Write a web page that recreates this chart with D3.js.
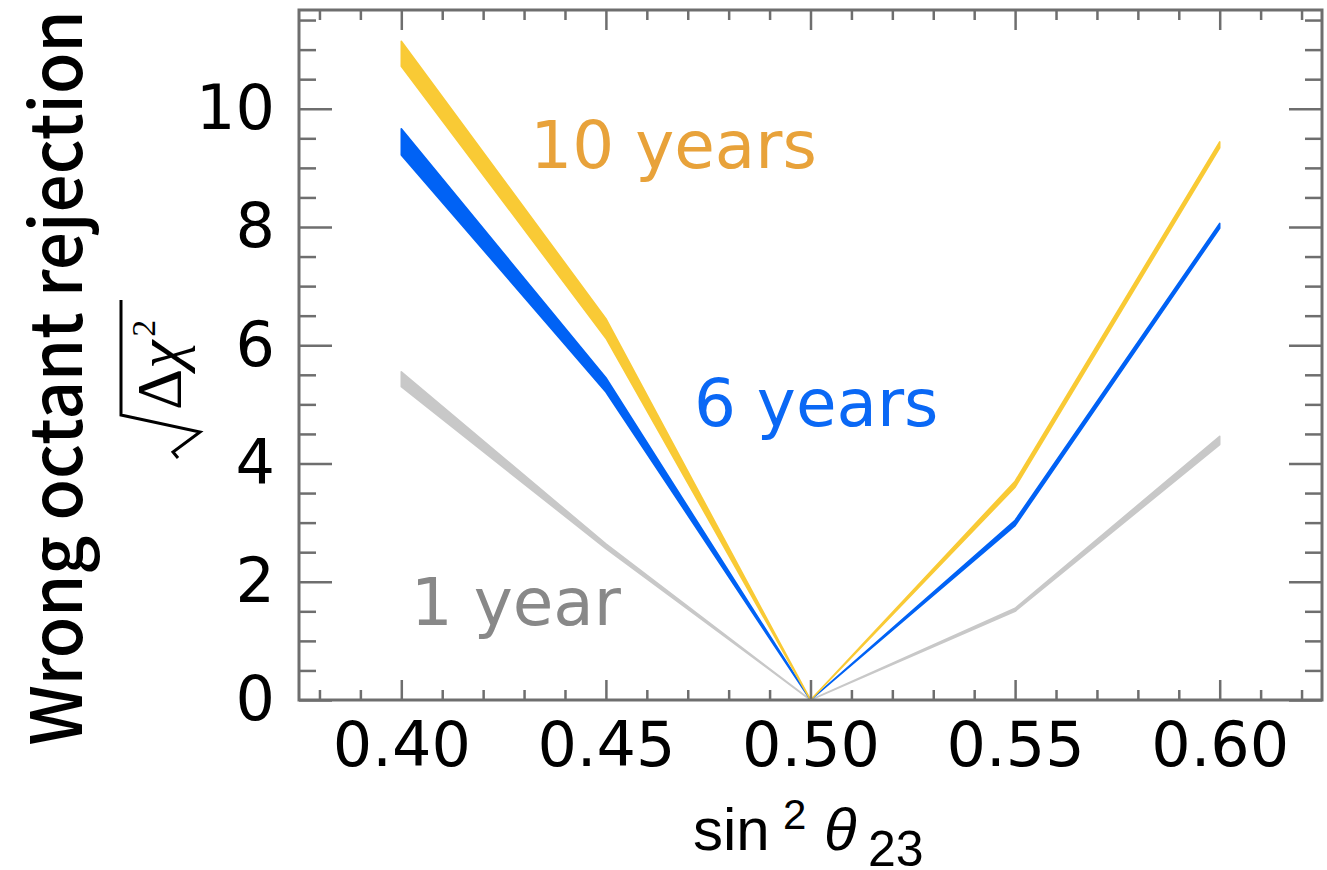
<!DOCTYPE html>
<html>
<head>
<meta charset="utf-8">
<script src="https://cdn.jsdelivr.net/npm/d3@7"></script>
<style>
	body { margin: 0; background: #fff; }
	svg { display: block; }
</style>
</head>
<body>
<svg id="chart" width="1327" height="870"></svg>
<script>
// sin^2(theta23) points and sqrt(delta chi^2) bands (low / high edge)
const sin2 = [0.40, 0.45, 0.50, 0.55, 0.60];
const tenLo = [10.72, 6.12, 0, 3.60, 9.34];
const tenHi = [11.14, 6.45, 0, 3.70, 9.44];
const sixLo = [9.22, 5.21, 0, 2.95, 7.98];
const sixHi = [9.66, 5.45, 0, 3.04, 8.06];
const oneLo = [5.30, 2.56, 0, 1.50, 4.32];
const oneHi = [5.55, 2.64, 0, 1.55, 4.46];

const xMajor = [0.40, 0.45, 0.50, 0.55, 0.60];
const xLabels = ['0.40', '0.45', '0.50', '0.55', '0.60'];
const yMajor = [0, 2, 4, 6, 8, 10];

const font = '"DejaVu Sans", "Noto Sans", sans-serif';
const titleFont = '"Noto Sans CJK JP", "Noto Sans", sans-serif';

let svg = d3.select('#chart'),
	margin = {top: 10, right: 5, bottom: 170, left: 299},
	width = +svg.attr('width') - margin.left - margin.right,
	height = +svg.attr('height') - margin.top - margin.bottom,
	g = svg.append('g').attr('transform', `translate(${margin.left}, ${margin.top})`);

let x = d3.scaleLinear().domain([0.375, 0.625]).range([0, width]),
	y = d3.scaleLinear().domain([0, 11.67]).range([height, 0]);

let xMinor = d3.range(38, 63).map(d => d / 100).filter(d => Math.round(d * 100) % 5 !== 0),
	yMinor = d3.range(1, 24).map(d => d / 2).filter(d => d % 2 !== 0);

// bands
let series = [
	{lo: oneLo, hi: oneHi, color: '#c8c8c8'},
	{lo: sixLo, hi: sixHi, color: '#0062f5'},
	{lo: tenLo, hi: tenHi, color: '#f9ca35'}
];

let area = d3.area()
	.x((d, i) => x(sin2[i]))
	.y0(d => y(d[0]))
	.y1(d => y(d[1]));

series.forEach(s => {
	let pts = s.lo.map((v, i) => [v, s.hi[i]]);
	g.append('path')
		.datum(pts)
		.attr('fill', s.color)
		.attr('stroke', s.color)
		.attr('stroke-width', 1.6)
		.attr('stroke-linejoin', 'round')
		.attr('d', area);
});

// ticks on all four sides
let tickColor = '#6e6e6e';
function styleAxis(sel) {
	sel.select('.domain').remove();
	sel.selectAll('.tick line').attr('stroke', tickColor).attr('stroke-width', 2.5);
	sel.selectAll('text')
		.attr('font-family', font)
		.attr('font-size', 62)
		.attr('fill', '#000');
}

g.append('g').attr('transform', `translate(0, ${height})`)
	.call(d3.axisBottom(x).tickValues(xMinor).tickSize(-10).tickFormat(''))
	.call(styleAxis);
g.append('g').attr('transform', `translate(0, ${height})`)
	.call(d3.axisBottom(x).tickValues(xMajor).tickSize(-20).tickPadding(22)
		.tickFormat((d, i) => xLabels[i]))
	.call(styleAxis);
g.append('g')
	.call(d3.axisTop(x).tickValues(xMinor).tickSize(-10).tickFormat(''))
	.call(styleAxis);
g.append('g')
	.call(d3.axisTop(x).tickValues(xMajor).tickSize(-20).tickFormat(''))
	.call(styleAxis);

g.append('g')
	.call(d3.axisLeft(y).tickValues(yMinor).tickSize(-17).tickFormat(''))
	.call(styleAxis);
g.append('g')
	.call(d3.axisLeft(y).tickValues(yMajor).tickSize(-33).tickPadding(24).tickFormat(d3.format('d')))
	.call(styleAxis);
g.append('g').attr('transform', `translate(${width}, 0)`)
	.call(d3.axisRight(y).tickValues(yMinor).tickSize(-17).tickFormat(''))
	.call(styleAxis);
g.append('g').attr('transform', `translate(${width}, 0)`)
	.call(d3.axisRight(y).tickValues(yMajor).tickSize(-33).tickFormat(''))
	.call(styleAxis);

g.append('rect')
	.attr('width', width)
	.attr('height', height)
	.attr('fill', 'none')
	.attr('stroke', tickColor)
	.attr('stroke-width', 3);

// annotations
let notes = [
	{text: '10 years', xv: 0.4315, yv: 9.0, color: '#e8a23a'},
	{text: '6 years', xv: 0.4715, yv: 4.63, color: '#0a68f5'},
	{text: '1 year', xv: 0.4023, yv: 1.27, color: '#888888'}
];
g.selectAll('text.note')
	.data(notes)
	.enter()
	.append('text')
	.attr('class', 'note')
	.attr('x', d => x(d.xv))
	.attr('y', d => y(d.yv))
	.attr('font-family', font)
	.attr('font-size', 66)
	.attr('fill', d => d.color)
	.text(d => d.text);

// y axis titles
svg.append('text')
	.attr('transform', 'translate(82, 378) rotate(-90)')
	.attr('text-anchor', 'middle')
	.attr('font-family', titleFont)
	.attr('font-size', 71)
	.attr('font-weight', 500)
	.attr('textLength', 735)
	.attr('lengthAdjust', 'spacingAndGlyphs')
	.attr('fill', '#000')
	.text('Wrong octant rejection');

let sq = svg.append('g').attr('transform', 'translate(181, 0) rotate(-90)');
sq.append('path')
	.attr('d', 'M-300,-60 L-415,-60 L-432,19 L-452,-8 L-458,-3')
	.attr('fill', 'none')
	.attr('stroke', '#000')
	.attr('stroke-width', 3);
let sqText = sq.append('text')
	.attr('x', -410)
	.attr('y', 0)
	.attr('font-family', '"Liberation Serif", "DejaVu Serif", serif')
	.attr('font-size', 64)
	.attr('fill', '#000');
sqText.append('tspan').text('Δ');
sqText.append('tspan').attr('font-style', 'italic').text('χ');
sqText.append('tspan').attr('font-size', 34).attr('dy', -26).attr('dx', 4).text('2');

// x axis title
let xt = svg.append('text')
	.attr('font-family', '"Liberation Sans", Arial, sans-serif')
	.attr('font-size', 60)
	.attr('fill', '#000');
xt.append('tspan').attr('x', 693).attr('y', 850).text('sin');
xt.append('tspan').attr('x', 783).attr('y', 829).attr('font-size', 42).text('2');
xt.append('tspan').attr('x', 824).attr('y', 850).attr('font-style', 'italic').text('θ');
xt.append('tspan').attr('x', 868).attr('y', 866).attr('font-size', 50).text('23');
</script>
</body>
</html>
